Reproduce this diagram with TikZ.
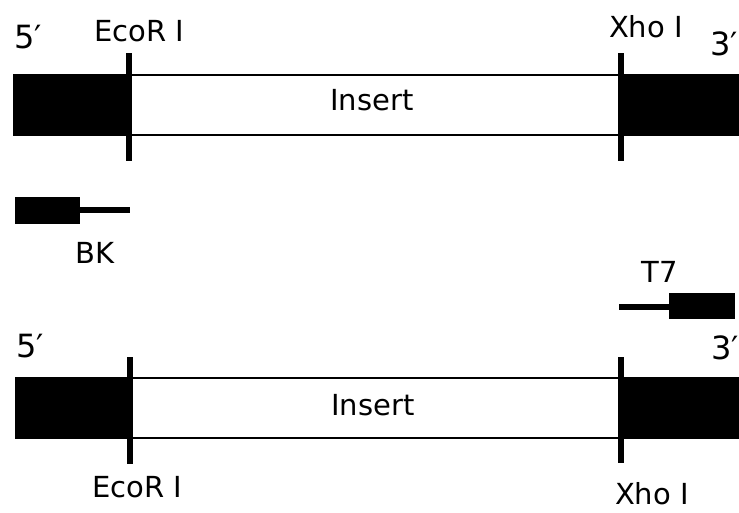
\documentclass[tikz,border=0pt]{standalone}
\usepackage{fontspec}
\setmainfont{DejaVu Sans}
\usetikzlibrary{positioning}

\begin{document}
\begin{tikzpicture}[x=1pt, y=-1pt,
        blk/.style={fill=black, draw=none},
        ins/.style={draw=black, line width=1.3pt},
        cut/.style={draw=black, line width=6pt},
        lbl/.style={font=\fontsize{29}{29}\selectfont, inner sep=0},
        end/.style={font=\fontsize{32}{32}\selectfont, inner sep=0}]
        \useasboundingbox (0,0) rectangle (739,512);
        % top construct
        \draw[ins] (129,75) -- (621,75);
        \draw[ins] (129,135) -- (621,135);
        \fill[blk] (13,74) rectangle (129,136);
        \fill[blk] (621,74) rectangle (739,136);
        \draw[cut] (129,53) -- (129,161);
        \draw[cut] (621,53) -- (621,161);
        \node[lbl] (ins1) at (372,100) {Insert};
        \node[end, anchor=west] (p5a) at (14,37) {5′};
        \node[end, anchor=west] (p3a) at (710,44) {3′};
        \node[lbl] (ecoa) at (139,31) {EcoR I};
        \node[lbl] (xhoa) at (646,27) {Xho I};
        % primers
        \fill[blk] (15,197) rectangle (80,224);
        \draw[line width=6pt] (80,210) -- (130,210);
        \node[lbl] (bk) at (95,253) {BK};
        \fill[blk] (669,293) rectangle (735,319);
        \draw[line width=6pt] (619,307) -- (669,307);
        \node[lbl] (t7) at (660,272) {T7};
        % bottom construct
        \draw[ins] (130,378) -- (621,378);
        \draw[ins] (130,438) -- (621,438);
        \fill[blk] (15,377) rectangle (130,439);
        \fill[blk] (621,377) rectangle (739,439);
        \draw[cut] (130,357) -- (130,464);
        \draw[cut] (621,357) -- (621,463);
        \node[lbl] (ins2) at (373,405) {Insert};
        \node[end, anchor=west] (p5b) at (16,346) {5′};
        \node[end, anchor=west] (p3b) at (711,348) {3′};
        \node[lbl] (ecob) at (137,487) {EcoR I};
        \node[lbl] (xhob) at (652,494) {Xho I};
      \end{tikzpicture}
\end{document}
